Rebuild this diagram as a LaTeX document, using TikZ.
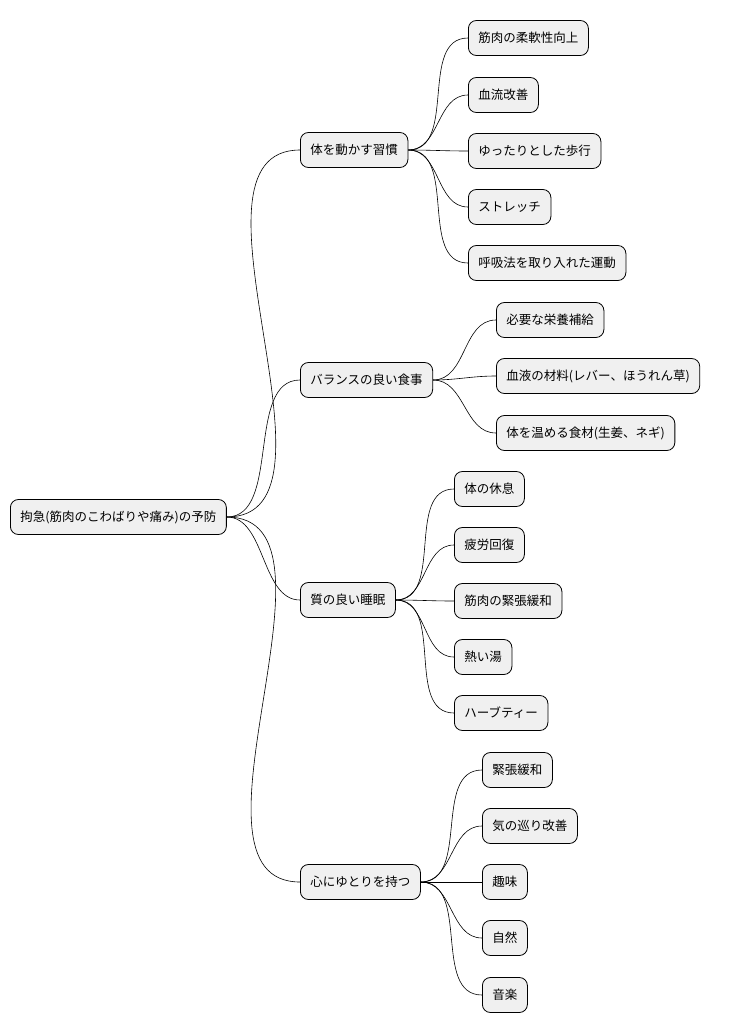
\documentclass[tikz,border=0pt]{standalone}
\usepackage{fontspec}
\setmainfont{Noto Sans CJK JP}
\begin{document}
\begin{tikzpicture}[x=1pt,y=-1pt,
  box/.style={draw=black,fill=black!6,rounded corners=8pt,minimum height=35pt,inner xsep=10pt,anchor=west,font=\fontsize{12.5pt}{14pt}\selectfont,line width=0.8pt},
  link/.style={draw=black,line width=0.6pt}]
\useasboundingbox (0,0) rectangle (734,1034);
\node[box] (r) at (10,517) {拘急(筋肉のこわばりや痛み)の予防};
\node[box] (a) at (300,150) {体を動かす習慣};
\node[box] (b) at (300,380) {バランスの良い食事};
\node[box] (c) at (300,600) {質の良い睡眠};
\node[box] (d) at (300,882) {心にゆとりを持つ};
\foreach \n in {a,b,c,d} \draw[link] (r.east) to[out=0,in=180,looseness=0.9] (\n.west);
\node[box] (a1) at (468,38) {筋肉の柔軟性向上};
\node[box] (a2) at (468,95) {血流改善};
\node[box] (a3) at (468,151) {ゆったりとした歩行};
\node[box] (a4) at (468,207) {ストレッチ};
\node[box] (a5) at (468,263) {呼吸法を取り入れた運動};
\foreach \n in {a1,a2,a3,a4,a5} \draw[link] (a.east) to[out=0,in=180] (\n.west);
\node[box] (b1) at (496,320) {必要な栄養補給};
\node[box] (b2) at (496,376) {血液の材料(レバー、ほうれん草)};
\node[box] (b3) at (496,433) {体を温める食材(生姜、ネギ)};
\foreach \n in {b1,b2,b3} \draw[link] (b.east) to[out=0,in=180] (\n.west);
\node[box] (c1) at (454,489) {体の休息};
\node[box] (c2) at (454,545) {疲労回復};
\node[box] (c3) at (454,601) {筋肉の緊張緩和};
\node[box] (c4) at (454,657) {熱い湯};
\node[box] (c5) at (454,713) {ハーブティー};
\foreach \n in {c1,c2,c3,c4,c5} \draw[link] (c.east) to[out=0,in=180] (\n.west);
\node[box] (d1) at (482,770) {緊張緩和};
\node[box] (d2) at (482,826) {気の巡り改善};
\node[box] (d3) at (482,882) {趣味};
\node[box] (d4) at (482,938) {自然};
\node[box] (d5) at (482,995) {音楽};
\foreach \n in {d1,d2,d3,d4,d5} \draw[link] (d.east) to[out=0,in=180] (\n.west);
\end{tikzpicture}
\end{document}
